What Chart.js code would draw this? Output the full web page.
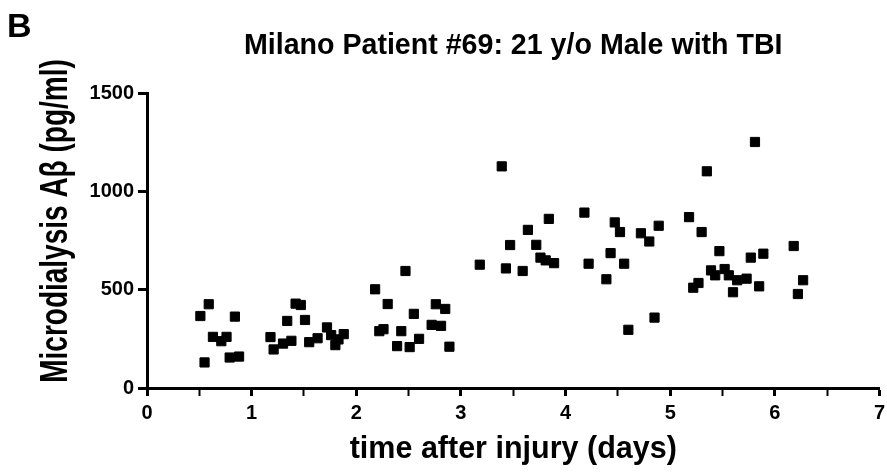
<!DOCTYPE html>
<html>
<head>
<meta charset="utf-8">
<title>Milano Patient #69</title>
<script src="https://cdn.jsdelivr.net/npm/chart.js@4.4.1/dist/chart.umd.min.js"></script>
<style>
  html, body { margin: 0; padding: 0; background: #fff; }
  canvas { display: block; }
</style>
</head>
<body>
<canvas id="scatterChart" width="887" height="472"></canvas>
<script>
// Values
const timeDays = [
    0.51, 0.55, 0.59, 0.63, 0.71, 0.76, 0.79, 0.84, 0.88,
    1.18, 1.21, 1.30, 1.34, 1.38, 1.42, 1.47, 1.51, 1.55, 1.63, 1.72, 1.76, 1.80, 1.83, 1.88,
    2.18, 2.22, 2.26, 2.30, 2.39, 2.43, 2.47, 2.51, 2.55, 2.60, 2.72, 2.76, 2.81, 2.85, 2.89,
    3.18, 3.39, 3.43, 3.47, 3.59, 3.64, 3.72, 3.76, 3.81, 3.84, 3.89,
    4.18, 4.22, 4.39, 4.43, 4.47, 4.52, 4.56, 4.60, 4.72, 4.80, 4.85, 4.89,
    5.18, 5.22, 5.27, 5.30, 5.35, 5.39, 5.43, 5.47, 5.52, 5.56, 5.60, 5.64, 5.73, 5.77, 5.81, 5.85, 5.89,
    6.18, 6.22, 6.27
];
const abetaPgMl = [
    366, 130, 426, 260, 238, 260, 155, 363, 160,
    259, 196, 226, 341, 240, 429, 422, 346, 233, 253, 308, 269, 218, 247, 274,
    502, 289, 299, 427, 213, 289, 595, 208, 377, 250, 321, 426, 316, 402, 210,
    627, 1127, 608, 727, 595, 804, 728, 663, 649, 860, 635,
    892, 632, 553, 686, 842, 793, 632, 296, 787, 745, 358, 825,
    869, 510, 534, 793, 1102, 598, 573, 696, 605, 573, 487, 548, 556, 663, 1251, 517, 683,
    722, 478, 548
];
const xTickValues = [0, 1, 2, 3, 4, 5, 6, 7];
const yTickValues = [0, 500, 1000, 1500];

const FONT = '"Liberation Sans", Arial, sans-serif';

// panel letter and the (tall, narrow) y axis title
const extraText = {
    id: 'extraText',
    afterDraw(chart) {
        const ctx = chart.ctx;
        ctx.save();
        ctx.fillStyle = '#000';
        ctx.font = `bold 34px ${FONT}`;
        ctx.textAlign = 'left';
        ctx.textBaseline = 'alphabetic';
        ctx.fillText('B', 7, 37);

        ctx.translate(67, 221);
        ctx.rotate(-Math.PI / 2);
        ctx.scale(1, 1.4);
        ctx.font = `bold 28px ${FONT}`;
        ctx.textAlign = 'center';
        ctx.fillText('Microdialysis Aβ (pg/ml)', 0, 0);
        ctx.restore();
    }
};

const ctx = document.getElementById('scatterChart').getContext('2d');
const scatterChart = new Chart(ctx, {
    type: 'scatter',
    data: {
        datasets: [{
            label: 'Aβ',
            data: timeDays.map((t, i) => ({ x: t, y: abetaPgMl[i] })),
            pointStyle: 'rect',
            pointRadius: 6.5,
            pointHoverRadius: 6.5,
            backgroundColor: '#000',
            borderColor: '#000',
            borderWidth: 1
        }]
    },
    options: {
        responsive: false,
        animation: false,
        devicePixelRatio: 1,
        layout: { padding: { top: 0, left: 0, right: 7, bottom: 0 } },
        plugins: {
            legend: { display: false },
            tooltip: { enabled: false },
            title: {
                display: true,
                fullSize: false,
                text: 'Milano Patient #69: 21 y/o Male with TBI',
                color: '#000',
                font: { family: FONT, size: 28.6, weight: 'bold', lineHeight: 1.2 },
                padding: { top: 29, bottom: 29.7 }
            }
        },
        scales: {
            x: {
                type: 'linear',
                min: 0,
                max: 7,
                afterFit: scale => {
                    scale.height = 84;
                    scale.paddingRight = 0;
                    scale.paddingLeft = 0;
                },
                afterBuildTicks: scale => {
                    const t = [];
                    for (let v = 0; v <= 14; v++) t.push({ value: v / 2 });
                    scale.ticks = t;
                },
                ticks: {
                    color: '#000',
                    padding: 5,
                    font: { family: FONT, size: 20, weight: 'bold' },
                    callback: v => xTickValues.includes(v) ? String(v) : ''
                },
                grid: {
                    drawOnChartArea: false,
                    drawTicks: true,
                    tickLength: 8,
                    tickColor: '#000',
                    tickWidth: c => (c.tick && Number.isInteger(c.tick.value)) ? 3 : 2
                },
                border: { display: true, color: '#000', width: 3 },
                title: {
                    display: true,
                    text: 'time after injury (days)',
                    color: '#000',
                    font: { family: FONT, size: 30.5, weight: 'bold', lineHeight: 1.2 },
                    padding: { top: 0, bottom: 4 }
                }
            },
            y: {
                type: 'linear',
                min: 0,
                max: 1500,
                afterFit: scale => { scale.width = 147; },
                afterBuildTicks: scale => {
                    scale.ticks = yTickValues.map(v => ({ value: v }));
                },
                ticks: {
                    color: '#000',
                    padding: 4,
                    font: { family: FONT, size: 20, weight: 'bold' },
                    callback: v => String(v)
                },
                grid: {
                    drawOnChartArea: false,
                    drawTicks: true,
                    tickLength: 9,
                    tickColor: '#000',
                    tickWidth: 3
                },
                border: { display: true, color: '#000', width: 3 }
            }
        }
    },
    plugins: [extraText]
});
</script>
</body>
</html>
